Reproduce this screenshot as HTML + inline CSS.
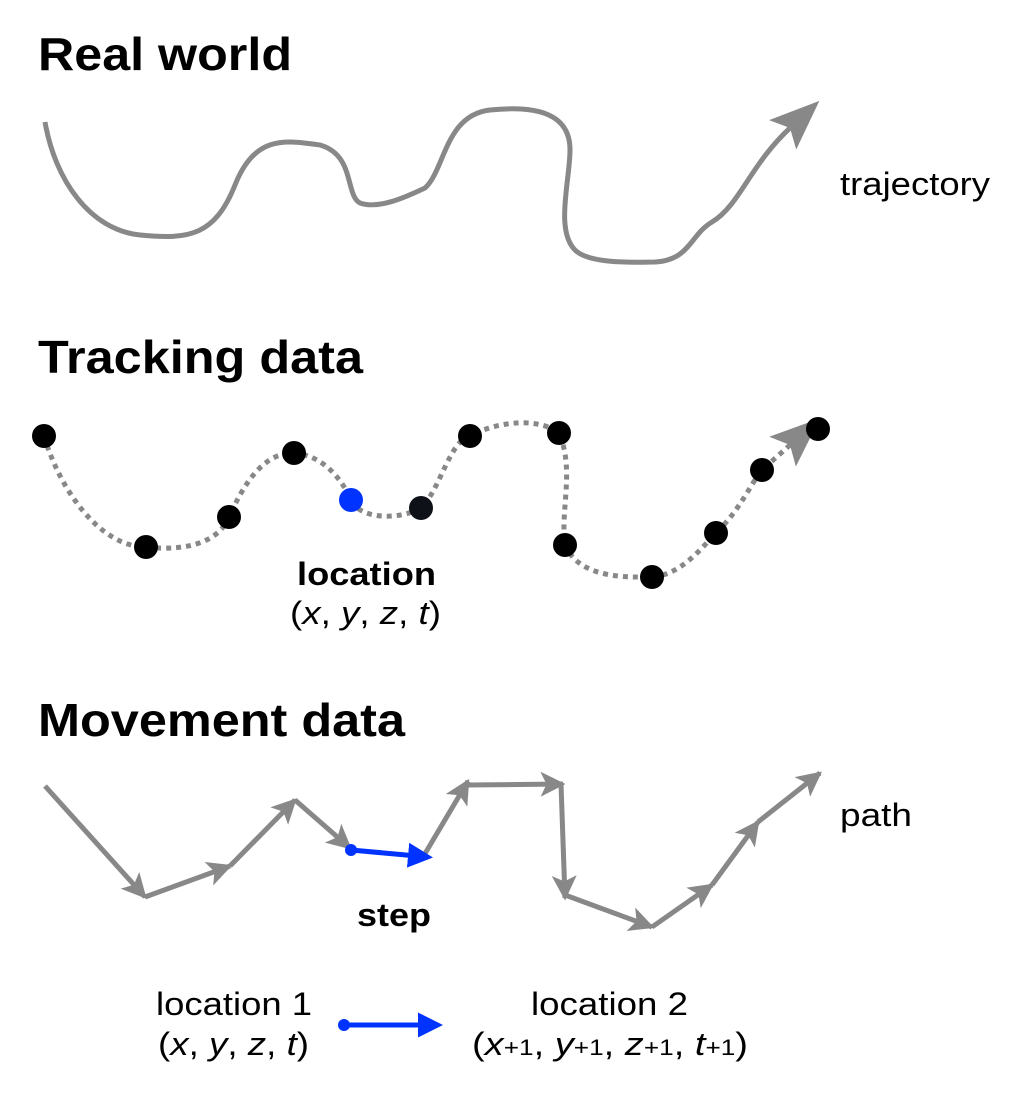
<!DOCTYPE html>
<html><head><style>
body{margin:0;background:#fff;width:1024px;height:1094px;overflow:hidden}
svg{display:block}
text{font-family:"Liberation Sans",sans-serif;fill:#000}
</style></head><body>
<svg width="1024" height="1094" viewBox="0 0 1024 1094">
<defs>
<marker id="ag" markerWidth="5" markerHeight="5" refX="4.5" refY="2.5" orient="auto" markerUnits="strokeWidth"><path d="M0,0 L5,2.5 L0,5 L1.2,2.5Z" fill="#888"/></marker>
<marker id="ab" markerWidth="5" markerHeight="5" refX="4" refY="2.5" orient="auto" markerUnits="strokeWidth"><path d="M0,0 L5,2.5 L0,5Z" fill="#0033ff"/></marker>
<marker id="big" markerWidth="10" markerHeight="8" refX="2" refY="4" orient="auto" markerUnits="strokeWidth"><path d="M0,0 L10,4 L0,8 L2,4Z" fill="#888"/></marker>
</defs>
<text x="38" y="70" font-size="46" font-weight="bold" textLength="254" lengthAdjust="spacingAndGlyphs">Real world</text>
<text x="38" y="373" font-size="46" font-weight="bold" textLength="325" lengthAdjust="spacingAndGlyphs">Tracking data</text>
<text x="38" y="736" font-size="46" font-weight="bold" textLength="367" lengthAdjust="spacingAndGlyphs">Movement data</text>
<text x="840" y="195" font-size="32" textLength="150" lengthAdjust="spacingAndGlyphs">trajectory</text>
<text x="840" y="826" font-size="32" textLength="72" lengthAdjust="spacingAndGlyphs">path</text>

<path d="M45,122 C55,180 90,230 140,235 C190,240 215,235 235,185 C255,135 285,140 320,145 C355,155 345,195 360,203 C380,210 410,195 425,188 C445,170 445,115 490,110 C540,105 570,115 570,150 C570,180 555,230 575,250 C590,265 640,262 655,262 C690,260 690,235 712,222 C740,205 750,165 790,128" fill="none" stroke="#888" stroke-width="5" marker-end="url(#big)"/>

<path d="M44,436 C60,490 100,547 146,547 C190,552 220,540 229,517 C250,470 270,453 294,453 C320,455 340,475 351,500 C360,520 400,520 421,508 C440,490 450,440 470,436 C500,420 540,418 559,433 C575,470 560,510 565,545 C580,580 630,577 652,577 C680,575 700,550 716,533 C740,510 750,485 762,470 L790,445" fill="none" stroke="#888" stroke-width="5" stroke-dasharray="5,5" marker-end="url(#big)"/>
<g fill="#000">
<circle cx="44" cy="436" r="12"/><circle cx="146" cy="547" r="12"/><circle cx="229" cy="517" r="12"/><circle cx="294" cy="453" r="12"/><circle cx="421" cy="508" r="12" fill="#0f1118"/><circle cx="470" cy="436" r="12"/><circle cx="559" cy="433" r="12"/><circle cx="565" cy="545" r="12"/><circle cx="652" cy="577" r="12"/><circle cx="716" cy="533" r="12"/><circle cx="762" cy="470" r="12"/><circle cx="818" cy="429" r="12"/>
</g>
<circle cx="351" cy="500" r="12" fill="#0033ff"/>
<text x="297" y="585" font-size="32" font-weight="bold" textLength="139" lengthAdjust="spacingAndGlyphs">location</text>
<text x="290" y="624" font-size="32" textLength="151" lengthAdjust="spacingAndGlyphs">(<tspan font-style="italic">x</tspan>, <tspan font-style="italic">y</tspan>, <tspan font-style="italic">z</tspan>, <tspan font-style="italic">t</tspan>)</text>

<g stroke="#888" stroke-width="5" fill="none" marker-end="url(#ag)">
<line x1="45" y1="786" x2="145" y2="897"/>
<line x1="145" y1="897" x2="230" y2="866"/>
<line x1="230" y1="866" x2="295" y2="800"/>
<line x1="295" y1="800" x2="350" y2="848"/>
<line x1="423" y1="857" x2="468" y2="781"/>
<line x1="468" y1="785" x2="563" y2="784"/>
<line x1="561" y1="784" x2="565" y2="898"/>
<line x1="565" y1="895" x2="652" y2="927"/>
<line x1="652" y1="927" x2="712" y2="885"/>
<line x1="712" y1="885" x2="758" y2="822"/>
<line x1="758" y1="822" x2="820" y2="773"/>
</g>
<line x1="351" y1="850" x2="428" y2="857" stroke="#0033ff" stroke-width="5" marker-end="url(#ab)"/>
<circle cx="351" cy="850" r="6" fill="#0033ff"/>
<text x="357" y="926" font-size="32" font-weight="bold" textLength="74" lengthAdjust="spacingAndGlyphs">step</text>

<text x="156" y="1015" font-size="32" textLength="156" lengthAdjust="spacingAndGlyphs">location 1</text>
<text x="158" y="1055" font-size="32" textLength="151" lengthAdjust="spacingAndGlyphs">(<tspan font-style="italic">x</tspan>, <tspan font-style="italic">y</tspan>, <tspan font-style="italic">z</tspan>, <tspan font-style="italic">t</tspan>)</text>
<line x1="344" y1="1025" x2="438" y2="1025" stroke="#0033ff" stroke-width="5" marker-end="url(#ab)"/>
<circle cx="344" cy="1025" r="6" fill="#0033ff"/>
<text x="531" y="1015" font-size="32" textLength="157" lengthAdjust="spacingAndGlyphs">location 2</text>
<text x="472" y="1055" font-size="32" textLength="276" lengthAdjust="spacingAndGlyphs">(<tspan font-style="italic">x</tspan><tspan font-size="22">+1</tspan>, <tspan font-style="italic">y</tspan><tspan font-size="22">+1</tspan>, <tspan font-style="italic">z</tspan><tspan font-size="22">+1</tspan>, <tspan font-style="italic">t</tspan><tspan font-size="22">+1</tspan>)</text>
</svg>
</body></html>
